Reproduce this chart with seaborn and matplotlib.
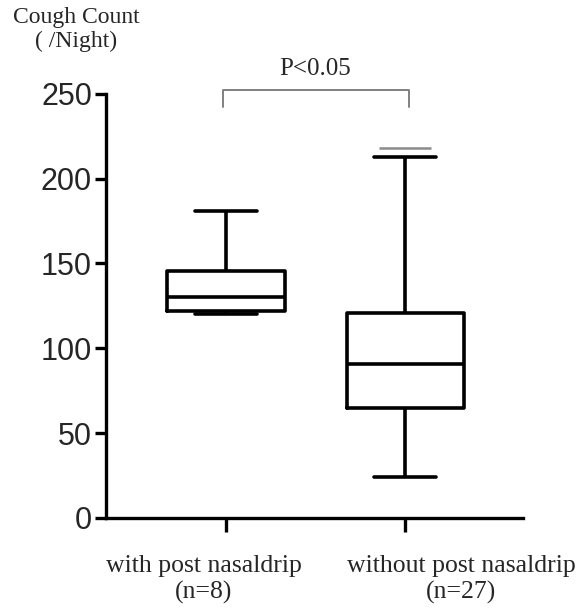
import matplotlib
matplotlib.use("Agg")
import matplotlib.pyplot as plt
import matplotlib.transforms as mtransforms
import seaborn as sns
import pandas as pd

# ---- data ----
groups = ["with post nasaldrip\n(n=8)", "without post nasaldrip\n(n=27)"]
with_pnd = [120, 121, 122.4, 128, 132, 134, 181, 181]
without_pnd = [24, 35, 42, 50, 55, 60, 64, 66, 70, 75, 80, 85, 88, 91, 95,
               100, 105, 110, 115, 120, 122, 135, 150, 170, 190, 213, 218]
y_ticks = [0, 50, 100, 150, 200, 250]
y_title = "Cough Count\n( /Night)"
p_text = "P<0.05"

df = pd.DataFrame({
    "group": [groups[0]] * len(with_pnd) + [groups[1]] * len(without_pnd),
    "count": with_pnd + without_pnd,
})

sns.set_style("ticks")
plt.rcParams["font.family"] = ["Liberation Sans", "DejaVu Sans"]
serif = ["Liberation Serif", "DejaVu Serif"]

fig = plt.figure(figsize=(5.82, 6.13), dpi=100)
ax = fig.add_axes([0.182, 0.155, 0.717, 0.692])

lw = 2.6
sns.boxplot(data=df, x="group", y="count", order=groups, ax=ax, fill=False,
            color="black", linecolor="black", width=0.654, linewidth=lw,
            whis=(0, 99), capwidths=0.35,
            flierprops=dict(marker="_", markersize=38, markeredgewidth=1.8,
                            markeredgecolor="#8a8a8a"))

ax.set_ylim(0, 250)
ax.set_xlim(-0.670, 1.659)
ax.set_yticks(y_ticks)
ax.set_xlabel("")
ax.set_ylabel("")
for s in ["top", "right"]:
    ax.spines[s].set_visible(False)
for s in ["left", "bottom"]:
    ax.spines[s].set_linewidth(2.4)
    ax.spines[s].set_color("black")

ax.tick_params(axis="y", length=8, width=2.4, labelsize=22, pad=2, color="black")
ax.tick_params(axis="x", length=10, width=2.4, labelsize=18.5, pad=17, color="black")

shifts = [-0.22, 0.56]
for lab, dx in zip(ax.get_xticklabels(), shifts):
    lab.set_fontfamily(serif)
    lab.set_transform(lab.get_transform() +
                      mtransforms.ScaledTranslation(dx, 0, fig.dpi_scale_trans))

fig.text(76 / 582, 1 - 7 / 613, y_title, ha="center", va="top",
         multialignment="center", fontsize=17, family=serif, linespacing=1.15)

ax.plot([-0.017, -0.017, 1.022, 1.022], [242, 252.5, 252.5, 242],
        color="#808080", lw=1.4, clip_on=False)
ax.text(0.5, 261, p_text, ha="center", va="baseline", fontsize=18,
        family=serif, clip_on=False)

fig.savefig("out.png", dpi=100)
